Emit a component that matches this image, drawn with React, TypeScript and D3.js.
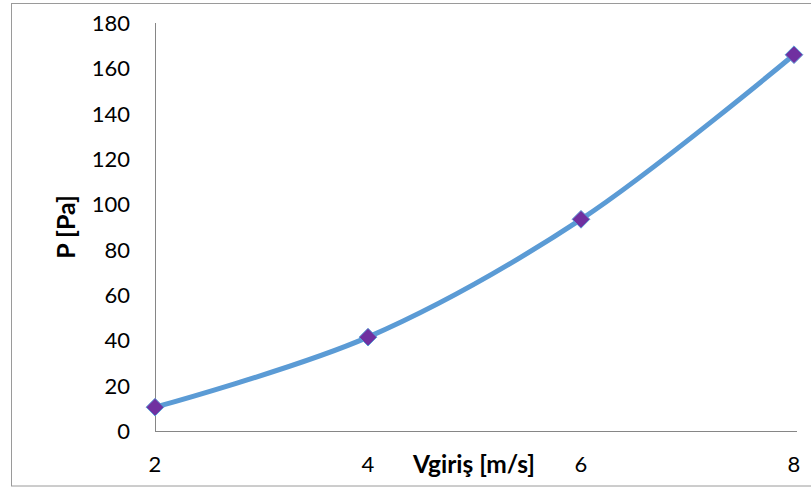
import React, { useEffect, useRef } from "react";
import * as d3 from "d3";

// Inlet velocity (m/s) and pressure (Pa)
const velocities = [2, 4, 6, 8];
const pressures = [10.5, 41.4, 93.4, 166];
const yTicks = [0, 20, 40, 60, 80, 100, 120, 140, 160, 180];
const xTicks = [2, 4, 6, 8];

const W = 811;
const H = 489;

export default function App() {
  const ref = useRef<SVGSVGElement | null>(null);

  useEffect(() => {
    const svg = d3.select(ref.current);
    svg.selectAll("*").remove();

    const x = d3.scaleLinear().domain([2, 8]).range([155, 794]);
    const y = d3.scaleLinear().domain([0, 180]).range([431, 23]);
    const font = "Lato, 'Open Sans', sans-serif";

    // chart frame
    svg.append("rect")
      .attr("x", 11.5).attr("y", 3.5)
      .attr("width", 810).attr("height", 482.5)
      .attr("fill", "#fff").attr("stroke", "#9a9a9a").attr("stroke-width", 1);

    // axes lines
    svg.append("line")
      .attr("x1", x(2) + 0.5).attr("x2", x(2) + 0.5)
      .attr("y1", y(180)).attr("y2", y(0))
      .attr("stroke", "#868686").attr("stroke-width", 1);
    svg.append("line")
      .attr("x1", x(2)).attr("x2", 797)
      .attr("y1", y(0) + 0.5).attr("y2", y(0) + 0.5)
      .attr("stroke", "#868686").attr("stroke-width", 1);

    // y tick labels
    svg.append("g").selectAll("text").data(yTicks).join("text")
      .attr("x", 130).attr("y", (d) => y(d))
      .attr("dy", "0.36em")
      .attr("text-anchor", "end")
      .attr("font-family", font).attr("font-size", 22).attr("fill", "#000")
      .text((d) => String(d));

    // x tick labels
    svg.append("g").selectAll("text").data(xTicks).join("text")
      .attr("x", (d) => x(d)).attr("y", 472)
      .attr("text-anchor", "middle")
      .attr("font-family", font).attr("font-size", 22).attr("fill", "#000")
      .text((d) => String(d));

    // axis titles
    svg.append("text")
      .attr("x", 474).attr("y", 473)
      .attr("text-anchor", "middle")
      .attr("font-family", font).attr("font-size", 24.5).attr("font-weight", "bold")
      .attr("fill", "#000")
      .text("Vgiriş [m/s]");
    svg.append("text")
      .attr("transform", "translate(75,227) rotate(-90)")
      .attr("text-anchor", "middle")
      .attr("font-family", font).attr("font-size", 25).attr("font-weight", "bold")
      .attr("fill", "#000")
      .text("P [Pa]");

    const pts: [number, number][] = velocities.map((v, i) => [v, pressures[i]]);

    // smoothed series line
    const line = d3.line<[number, number]>()
      .x((d) => x(d[0])).y((d) => y(d[1]))
      .curve(d3.curveCatmullRom.alpha(0.5));
    svg.append("path")
      .attr("d", line(pts))
      .attr("fill", "none").attr("stroke", "#5B9BD5")
      .attr("stroke-width", 5).attr("stroke-linecap", "round");

    // diamond markers
    const diamond = d3.symbol().type(d3.symbolDiamond2).size(200);
    svg.append("g").selectAll("path").data(pts).join("path")
      .attr("transform", (d) => `translate(${x(d[0])},${y(d[1])})`)
      .attr("d", diamond())
      .attr("fill", "#7030A0").attr("stroke", "#5B9BD5").attr("stroke-width", 1);
  }, []);

  return (
    <svg ref={ref} width={W} height={H} style={{ position: "absolute", left: 0, top: 0 }} />
  );
}
